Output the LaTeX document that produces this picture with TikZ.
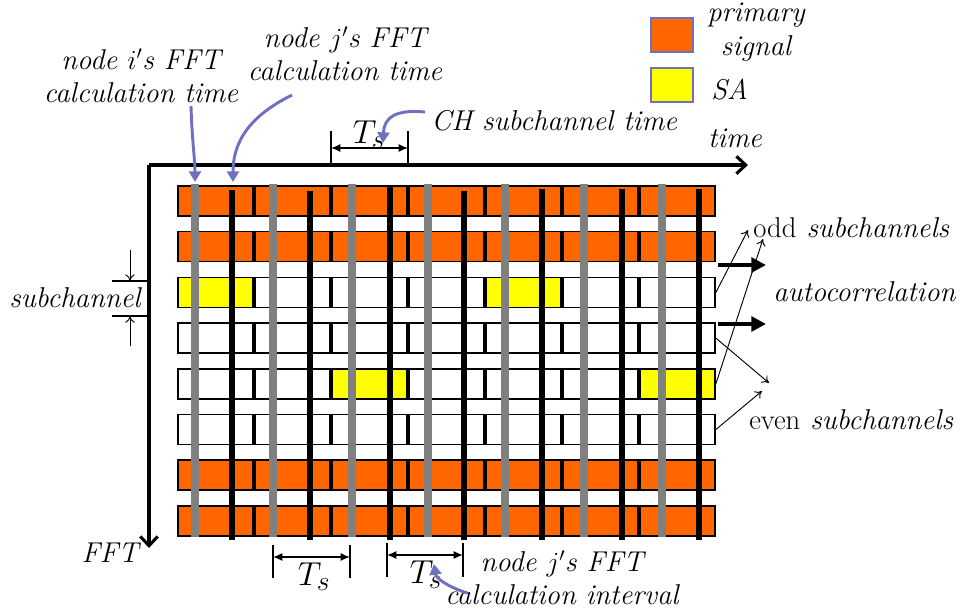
\documentclass[tikz,border=0pt]{standalone}
\usetikzlibrary{arrows.meta}
\definecolor{prim}{HTML}{FF6600}
\definecolor{sayel}{HTML}{FFFF00}
\definecolor{callout}{HTML}{7070C0}
\definecolor{barg}{HTML}{808080}
\begin{document}
\begin{tikzpicture}[x=0.75pt,y=-0.75pt,
  lbl/.style={font=\fontsize{21.5}{25}\selectfont\itshape, inner sep=0pt, align=center},
  tslbl/.style={font=\fontsize{28}{30}\selectfont, inner sep=0pt},
  cell/.style={draw=black, line width=1.1pt, minimum width=56.5pt, minimum height=22.5pt, inner sep=0pt},
  legbox/.style={draw=callout, line width=1.6pt, minimum width=32pt, minimum height=25pt, inner sep=0pt},
  axis/.style={line width=2.3pt, -{Straight Barb[length=7pt,width=13pt]}},
  graybar/.style={line width=6.6pt, barg},
  blackbar/.style={line width=5.2pt, black},
  callarrow/.style={line width=2.2pt, callout, -{Triangle[length=8pt,width=9pt]}},
  thinarrow/.style={line width=0.7pt, -{To[length=5pt,width=7pt]}},
  fatarrow/.style={line width=3pt, -{Triangle[length=11pt,width=11pt]}},
  dim/.style={line width=1.1pt, {Latex[length=7pt,width=6pt]}-{Latex[length=7pt,width=6pt]}},
  tick/.style={line width=1.5pt}]
\useasboundingbox (0,0) rectangle (965,612);
% grid cells
\foreach \r in {2,3,4,5}{\foreach \k in {0,...,6}{
  \node[cell, fill=white] (c\r\k) at ({177+77*\k+38.5},{186+45.7*\r+15}) {};}}
\foreach \r in {0,1,6,7}{\foreach \k in {0,...,6}{
  \node[cell, fill=prim] (c\r\k) at ({177+77*\k+38.5},{186+45.7*\r+15}) {};}}
\foreach \r/\k in {2/0,2/4,4/2,4/6}{
  \node[cell, fill=sayel] at (c\r\k) {};}
% FFT bars
\foreach \x in {195,273,352,428,505,584,662}{\draw[graybar] (\x,184) -- (\x,537);}
\foreach \x/\t in {232/190,310/191,390/186,464/191,542/189,622/189,699/189}{\draw[blackbar] (\x,\t) -- (\x,540);}
% axes
\coordinate (O) at (149,165);
\coordinate (tend) at (748,165);
\coordinate (fend) at (149,548);
\draw[axis] (O) -- (tend);
\draw[axis] (O) -- (fend);
\node[lbl] (ltime) at (735,138) {time};
\node[lbl] (lfft) at (110,553) {FFT};
% legend
\node[legbox, fill=prim] (lp) at (672,35) {};
\node[legbox, fill=sayel] (ls) at (672,85) {};
\node[lbl] (lprim) at (756,32) {primary\\signal};
\node[lbl, anchor=west] (lsa) at (711,90) {SA};
% top Ts
\coordinate (ta1) at (331,131); \coordinate (ta2) at (331,165);
\coordinate (tb1) at (408,131); \coordinate (tb2) at (408,165);
\draw[tick] (ta1) -- (ta2); \draw[tick] (tb1) -- (tb2);
\coordinate (ta) at (331,148); \coordinate (tb) at (408,148);
\draw[dim] (ta) -- (tb);
\node[tslbl] (ts1) at (369,135) {$T_s$};
% bottom Ts
\coordinate (ba1) at (273,545); \coordinate (ba2) at (273,578);
\coordinate (bb1) at (350,545); \coordinate (bb2) at (350,578);
\draw[tick] (ba1) -- (ba2); \draw[tick] (bb1) -- (bb2);
\coordinate (ba) at (273,557); \coordinate (bb) at (350,557);
\draw[dim] (ba) -- (bb);
\node[tslbl] (ts2) at (314,577) {$T_s$};
\coordinate (bc1) at (387,543); \coordinate (bc2) at (387,577);
\coordinate (bd1) at (463,543); \coordinate (bd2) at (463,577);
\draw[tick] (bc1) -- (bc2); \draw[tick] (bd1) -- (bd2);
\coordinate (bc) at (387,555); \coordinate (bd) at (463,555);
\draw[dim] (bc) -- (bd);
\node[tslbl] (ts3) at (426,575) {$T_s$};
% callout labels
\node[lbl] (li) at (141,76) {node \(i'\)s FFT\\calculation time};
\node[lbl] (lj) at (345,54) {node \(j'\)s FFT\\calculation time};
\node[lbl, anchor=west] (lch) at (431,121) {CH subchannel time};
\node[lbl] (lint) at (562,578) {node \(j'\)s FFT\\calculation interval};
\coordinate (gtop) at (195,182);
\coordinate (btop) at (233,182);
\coordinate (tstip) at (383,143);
\coordinate (tsbot) at (434,564);
\draw[callarrow] (191,106) .. controls (192,140) and (195,160) .. (gtop);
\draw[callarrow] (292,95) .. controls (258,112) and (233,135) .. (btop);
\draw[callarrow] (425,112) .. controls (395,109) and (384,118) .. (tstip);
\draw[callarrow] (467,593) .. controls (446,586) and (436,578) .. (tsbot);
% subchannel dimension
\node[lbl] (lsub) at (75,298) {subchannel};
\coordinate (s1) at (112,281); \coordinate (s2) at (112,316);
\draw[line width=1.6pt] (s1) -- (O |- s1);
\draw[line width=1.6pt] (s2) -- (O |- s2);
\draw[thinarrow] (130,250) -- (130,281);
\draw[thinarrow] (130,346) -- (130,316);
% right side
\node[lbl, anchor=west] (lodd) at (753,228) {{\upshape odd} subchannels};
\node[lbl, anchor=west] (lauto) at (773,292) {autocorrelation};
\node[lbl, anchor=west] (leven) at (749,420) {{\upshape even} subchannels};
\coordinate (o1) at (748,230); \coordinate (o2) at (763,239);
\coordinate (e1) at (769,383); \coordinate (e2) at (762,391);
\draw[thinarrow] (c26.east) -- (o1);
\draw[thinarrow] (c46.east) -- (o2);
\draw[thinarrow] (c36.east) -- (e1);
\draw[thinarrow] (c56.east) -- (e2);
\coordinate (f1a) at (718,265); \coordinate (f1b) at (766,265);
\coordinate (f2a) at (718,324); \coordinate (f2b) at (766,324);
\draw[fatarrow] (f1a) -- (f1b);
\draw[fatarrow] (f2a) -- (f2b);
\end{tikzpicture}
\end{document}
